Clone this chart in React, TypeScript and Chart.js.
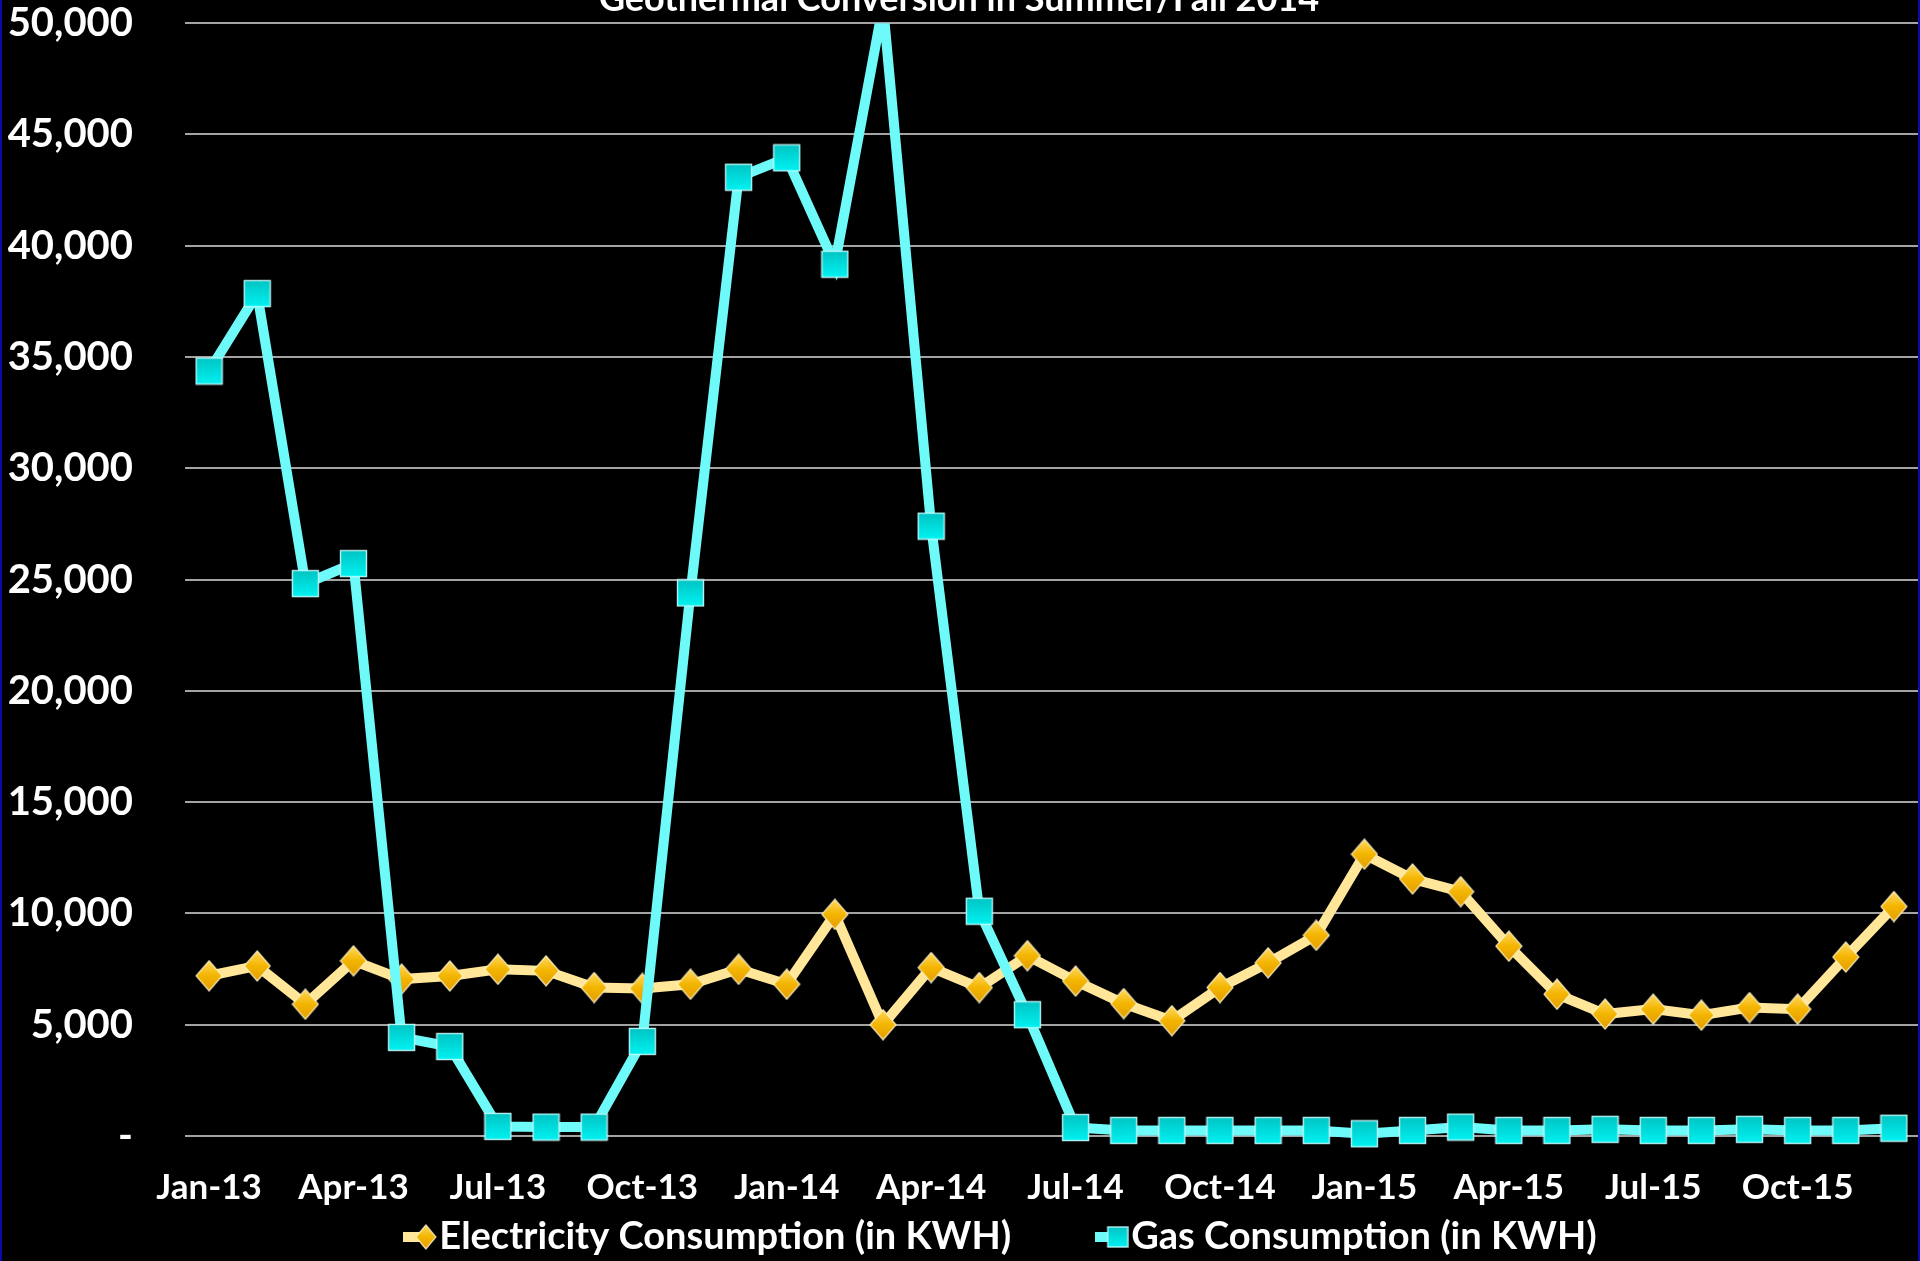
import React, { useEffect, useRef } from 'react';
import { Chart, registerables } from 'chart.js';

Chart.register(...registerables);

const chartTitle = 'Geothermal Conversion in Summer/Fall 2014';
const seriesNames = ['Electricity Consumption (in KWH)', 'Gas Consumption (in KWH)'];

const months = [
  'Jan-13', 'Feb-13', 'Mar-13', 'Apr-13', 'May-13', 'Jun-13', 'Jul-13', 'Aug-13', 'Sep-13', 'Oct-13', 'Nov-13', 'Dec-13',
  'Jan-14', 'Feb-14', 'Mar-14', 'Apr-14', 'May-14', 'Jun-14', 'Jul-14', 'Aug-14', 'Sep-14', 'Oct-14', 'Nov-14', 'Dec-14',
  'Jan-15', 'Feb-15', 'Mar-15', 'Apr-15', 'May-15', 'Jun-15', 'Jul-15', 'Aug-15', 'Sep-15', 'Oct-15', 'Nov-15', 'Dec-15',
];

const electricity = [
  7200, 7640, 5920, 7870, 7050, 7190, 7490, 7420, 6670, 6630, 6820, 7490,
  6820, 9960, 5000, 7570, 6670, 8100, 6960, 5950, 5180, 6670, 7780, 9020,
  12660, 11550, 10980, 8530, 6370, 5480, 5700, 5430, 5770, 5700, 8040, 10310,
];

const gas = [
  34370, 37850, 24820, 25720, 4430, 4020, 430, 400, 400, 4250, 24400, 43080,
  43950, 39170, 50800, 27400, 10100, 5450, 380, 250, 250, 250, 250, 250,
  100, 250, 400, 250, 250, 300, 250, 250, 300, 250, 250, 350,
];

const yMin = 0;
const yMax = 50000;
const yStep = 5000;
const tickEvery = 3;

const FONT = 'Lato, "Open Sans", sans-serif';
const ELEC_LINE = '#FFE699';
const GAS_LINE = '#6FFAFA';

const CANVAS_W = 1920;
const CANVAS_H = 1379;
const CANVAS_TOP = -22;

function drawDiamond(ctx: CanvasRenderingContext2D, cx: number, cy: number, hw: number, hh: number) {
  ctx.beginPath();
  ctx.moveTo(cx, cy - hh);
  ctx.lineTo(cx + hw, cy);
  ctx.lineTo(cx, cy + hh);
  ctx.lineTo(cx - hw, cy);
  ctx.closePath();
  const g = ctx.createLinearGradient(0, cy - hh, 0, cy + hh);
  g.addColorStop(0, '#FFD95E');
  g.addColorStop(0.5, '#F4B500');
  g.addColorStop(1, '#E39E00');
  ctx.fillStyle = g;
  ctx.fill();
  ctx.lineWidth = 1.2;
  ctx.strokeStyle = 'rgba(255,244,200,0.9)';
  ctx.stroke();
}

function drawSquare(ctx: CanvasRenderingContext2D, cx: number, cy: number, half: number) {
  const g = ctx.createLinearGradient(0, cy - half, 0, cy + half);
  g.addColorStop(0, '#00C4C4');
  g.addColorStop(1, '#00F2F2');
  ctx.fillStyle = g;
  ctx.fillRect(cx - half, cy - half, half * 2, half * 2);
  ctx.lineWidth = 1.4;
  ctx.strokeStyle = 'rgba(200,255,255,0.9)';
  ctx.strokeRect(cx - half, cy - half, half * 2, half * 2);
}

function makeDiamond(legend: boolean): HTMLCanvasElement {
  const c = document.createElement('canvas');
  if (legend) {
    c.width = 34; c.height = 26;
    const ctx = c.getContext('2d')!;
    ctx.fillStyle = ELEC_LINE;
    ctx.fillRect(0, 8, 22, 10);
    drawDiamond(ctx, 23, 13, 10, 12);
  } else {
    c.width = 28; c.height = 32;
    const ctx = c.getContext('2d')!;
    drawDiamond(ctx, 14, 16, 13, 15);
  }
  return c;
}

function makeSquare(legend: boolean): HTMLCanvasElement {
  const c = document.createElement('canvas');
  if (legend) {
    c.width = 34; c.height = 26;
    const ctx = c.getContext('2d')!;
    ctx.fillStyle = GAS_LINE;
    ctx.fillRect(0, 8, 22, 10);
    drawSquare(ctx, 23, 13, 10);
  } else {
    c.width = 29; c.height = 29;
    const ctx = c.getContext('2d')!;
    drawSquare(ctx, 14.5, 14.5, 13);
  }
  return c;
}

export default function App() {
  const ref = useRef<HTMLCanvasElement>(null);

  useEffect(() => {
    let chart: Chart | null = null;
    let cancelled = false;

    const build = () => {
      if (cancelled || !ref.current) return;
      const diamond = makeDiamond(false);
      const square = makeSquare(false);
      const legDiamond = makeDiamond(true);
      const legSquare = makeSquare(true);

      const legendShift = {
        id: 'legendShift',
        afterLayout(c: any) {
          const l = c.legend;
          if (l) {
            l.left += 49; l.right += 49;
            l.top -= 91; l.bottom -= 91;
          }
        },
      };

      chart = new Chart(ref.current, {
        type: 'line',
        data: {
          labels: months,
          datasets: [
            {
              label: seriesNames[0],
              data: electricity,
              borderColor: ELEC_LINE,
              backgroundColor: ELEC_LINE,
              borderWidth: 10,
              pointStyle: diamond as any,
              pointRadius: 13,
              pointHoverRadius: 13,
              tension: 0,
              order: 1,
            },
            {
              label: seriesNames[1],
              data: gas,
              borderColor: GAS_LINE,
              backgroundColor: GAS_LINE,
              borderWidth: 10,
              pointStyle: square as any,
              pointRadius: 13,
              pointHoverRadius: 13,
              tension: 0,
              order: 0,
              clip: { left: 40, right: 40, top: 0, bottom: 40 } as any,
            },
          ],
        },
        options: {
          responsive: false,
          devicePixelRatio: 1,
          animation: false,
          layout: { autoPadding: false, padding: { left: 0, right: 2, top: 0, bottom: 0 } },
          plugins: {
            title: {
              display: true,
              text: chartTitle,
              color: '#ffffff',
              font: { family: FONT, weight: 'bold', size: 36 },
              padding: { top: 0, bottom: 2 },
            },
            legend: {
              display: true,
              position: 'bottom',
              align: 'center',
              labels: {
                color: '#ffffff',
                font: { family: FONT, weight: 'bold', size: 38 },
                usePointStyle: true,
                boxWidth: 1,
                boxHeight: 38,
                padding: 100,
                sort: (a: any, b: any) => a.datasetIndex - b.datasetIndex,
                generateLabels: (c: any) => {
                  const items = (Chart.defaults.plugins.legend.labels as any).generateLabels(c);
                  return items.map((it: any) => ({
                    ...it,
                    pointStyle: it.datasetIndex === 0 ? legDiamond : legSquare,
                  }));
                },
              },
            },
            tooltip: { enabled: false },
          },
          scales: {
            x: {
              type: 'category',
              offset: true,
              grid: { display: false, drawTicks: false },
              border: { display: false },
              ticks: {
                autoSkip: false,
                maxRotation: 0,
                minRotation: 0,
                padding: 31,
                color: '#ffffff',
                font: { family: FONT, weight: 'bold', size: 35 },
                callback: (_v: any, i: number) => (i % tickEvery === 0 ? months[i] : ''),
              },
              afterFit: (s: any) => {
                s.height = 73;
                s.paddingLeft = 0;
                s.paddingRight = 0;
              },
            },
            y: {
              min: yMin,
              max: yMax,
              grid: { color: '#a3a3a3', lineWidth: 2, drawTicks: false },
              border: { display: false },
              ticks: {
                stepSize: yStep,
                padding: 52,
                color: '#ffffff',
                font: { family: FONT, weight: 'bold', size: 40 },
                callback: (v: any) => (Number(v) === 0 ? '-' : Number(v).toLocaleString('en-US')),
              },
              afterFit: (s: any) => {
                s.width = 185;
                s.paddingTop = 0;
                s.paddingBottom = 0;
              },
            },
          },
        },
        plugins: [legendShift],
      } as any);
    };

    const fontsReady = (document as any).fonts
      ? Promise.all([
          (document as any).fonts.load(`bold 38px ${FONT}`),
          (document as any).fonts.load(`bold 40px ${FONT}`),
        ])
      : Promise.resolve();
    fontsReady.then(build, build);

    return () => {
      cancelled = true;
      if (chart) chart.destroy();
    };
  }, []);

  return (
    <div
      style={{
        position: 'fixed',
        left: 0,
        top: 0,
        width: 1920,
        height: 1261,
        overflow: 'hidden',
        background: '#000000',
        boxShadow: 'inset 2px 0 0 #0a0aa8, inset -2px 0 0 #0a0aa8',
      }}
    >
      <canvas
        ref={ref}
        width={CANVAS_W}
        height={CANVAS_H}
        style={{
          position: 'absolute',
          left: 0,
          top: CANVAS_TOP,
          width: `${CANVAS_W}px`,
          height: `${CANVAS_H}px`,
          display: 'block',
        }}
      />
    </div>
  );
}
